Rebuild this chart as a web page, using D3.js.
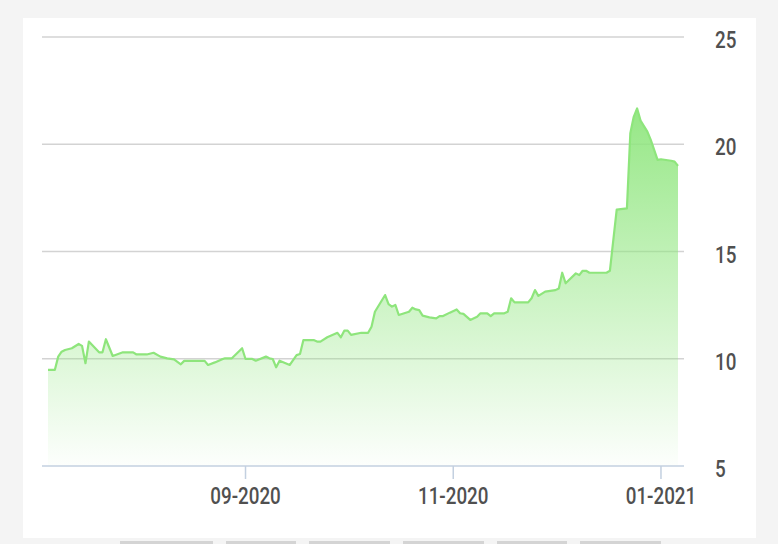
<!DOCTYPE html>
<html>
<head>
<meta charset="utf-8">
<script src="https://cdn.jsdelivr.net/npm/d3@7"></script>
<style>
  html, body { margin: 0; padding: 0; background: #f4f4f4; }
  svg { display: block; }
  text { font-family: Roboto, "Noto Sans", sans-serif; fill: #505050; font-weight: 500; }
</style>
</head>
<body>
<svg id="chart" width="778" height="544"></svg>
<script>
const dates = [
  "2020-07-05","2020-07-07","2020-07-08","2020-07-09","2020-07-10","2020-07-12","2020-07-14","2020-07-15","2020-07-16","2020-07-17",
  "2020-07-20","2020-07-21","2020-07-22","2020-07-24","2020-07-27","2020-07-30","2020-07-31","2020-08-03","2020-08-05","2020-08-07",
  "2020-08-09","2020-08-11","2020-08-13","2020-08-14","2020-08-20","2020-08-21","2020-08-23","2020-08-25","2020-08-26","2020-08-28",
  "2020-08-31","2020-09-01","2020-09-03","2020-09-04","2020-09-07","2020-09-08","2020-09-09","2020-09-10","2020-09-11","2020-09-14",
  "2020-09-16","2020-09-17","2020-09-18","2020-09-21","2020-09-22","2020-09-23","2020-09-25","2020-09-28","2020-09-29","2020-09-30",
  "2020-10-01","2020-10-02","2020-10-05","2020-10-07","2020-10-08","2020-10-09","2020-10-12","2020-10-13","2020-10-14","2020-10-15",
  "2020-10-16","2020-10-19","2020-10-20","2020-10-21","2020-10-22","2020-10-23","2020-10-25","2020-10-27","2020-10-28","2020-10-29",
  "2020-10-31","2020-11-02","2020-11-03","2020-11-04","2020-11-06","2020-11-08","2020-11-09","2020-11-11","2020-11-12","2020-11-13",
  "2020-11-16","2020-11-17","2020-11-18","2020-11-19","2020-11-23","2020-11-24","2020-11-25","2020-11-26","2020-11-28","2020-12-01",
  "2020-12-02","2020-12-03","2020-12-04","2020-12-07","2020-12-08","2020-12-09","2020-12-10","2020-12-11","2020-12-16","2020-12-17",
  "2020-12-19","2020-12-22","2020-12-23","2020-12-24","2020-12-25","2020-12-26","2020-12-28","2020-12-29","2020-12-31","2021-01-01",
  "2021-01-04","2021-01-05","2021-01-06"
];
const values = [
  9.48,9.48,10.10,10.33,10.41,10.49,10.69,10.60,9.79,10.80,
  10.30,10.30,10.91,10.13,10.30,10.30,10.20,10.20,10.28,10.10,
  10.02,9.97,9.74,9.90,9.90,9.71,9.83,9.97,10.02,10.02,
  10.49,9.99,9.99,9.91,10.10,10.02,9.99,9.60,9.91,9.71,
  10.17,10.22,10.87,10.87,10.80,10.80,11.00,11.21,11.00,11.31,
  11.31,11.11,11.21,11.21,11.49,12.19,12.97,12.55,12.43,12.51,
  12.04,12.19,12.38,12.30,12.27,12.01,11.93,11.88,11.99,11.99,
  12.15,12.30,12.12,12.09,11.81,11.96,12.12,12.12,11.99,12.12,
  12.12,12.19,12.82,12.63,12.63,12.82,13.20,12.93,13.13,13.20,
  13.28,14.01,13.52,13.98,13.90,14.10,14.10,14.01,14.01,14.10,
  16.95,17.01,20.51,21.28,21.67,21.10,20.59,20.20,19.27,19.30,
  19.23,19.19,18.99
];
const yTicks = [5, 10, 15, 20, 25];
const xTickDates = ["2020-09-01", "2020-11-01", "2021-01-01"];
const xTickLabels = ["09-2020", "11-2020", "01-2021"];
const tabWidths = [93, 70, 81, 81, 70, 81];

const parse = d3.timeParse("%Y-%m-%d");
const data = dates.map((d, i) => ({ date: parse(d), value: values[i] }));

const svg = d3.select("#chart");

// panel
svg.append("rect").attr("x", 23).attr("y", 18).attr("width", 733).attr("height", 520).attr("fill", "#ffffff");

// bottom tabs (decoration)
let tx = 120;
tabWidths.forEach(w => {
  svg.append("rect").attr("x", tx).attr("y", 541).attr("width", w).attr("height", 3).attr("fill", "#d4d4d4");
  tx += w + 13;
});

const x = d3.scaleTime()
  .domain(d3.extent(data, d => d.date))
  .range([48, 678]);
const y = d3.scaleLinear().domain([5, 25]).range([466, 37]);

// gradient
const defs = svg.append("defs");
const grad = defs.append("linearGradient").attr("id", "areaGrad")
  .attr("gradientUnits", "userSpaceOnUse")
  .attr("x1", 0).attr("x2", 0).attr("y1", y(d3.max(values))).attr("y2", y(5));
grad.append("stop").attr("offset", "0%").attr("stop-color", "#90e67f").attr("stop-opacity", 0.95);
grad.append("stop").attr("offset", "100%").attr("stop-color", "#90e67f").attr("stop-opacity", 0.02);

// gridlines
svg.append("g").selectAll("line").data(yTicks.filter(t => t !== 5)).join("line")
  .attr("x1", 42).attr("x2", 684)
  .attr("y1", d => y(d)).attr("y2", d => y(d))
  .attr("stroke", "#d3d3d3").attr("stroke-width", 1.5);

// area + line
const area = d3.area().x(d => x(d.date)).y0(y(5)).y1(d => y(d.value));
const line = d3.line().x(d => x(d.date)).y(d => y(d.value));
svg.append("path").datum(data).attr("d", area).attr("fill", "url(#areaGrad)");
svg.append("path").datum(data).attr("d", line)
  .attr("fill", "none").attr("stroke", "#8ee57c").attr("stroke-width", 2.2)
  .attr("stroke-linejoin", "round");

// x axis
svg.append("line").attr("x1", 42).attr("x2", 684).attr("y1", y(5)).attr("y2", y(5))
  .attr("stroke", "#c3d0e0").attr("stroke-width", 1.5);
const xg = svg.append("g");
xTickDates.forEach((d, i) => {
  const px = x(parse(d));
  xg.append("line").attr("x1", px).attr("x2", px).attr("y1", y(5)).attr("y2", y(5) + 13)
    .attr("stroke", "#c3d0e0").attr("stroke-width", 1.5);
  xg.append("text")
    .attr("transform", `translate(${px},504) scale(0.8,1)`)
    .attr("text-anchor", "middle")
    .style("font-size", "23.5px")
    .text(xTickLabels[i]);
});

// y labels (right)
const yg = svg.append("g");
yTicks.forEach(t => {
  yg.append("text")
    .attr("transform", `translate(715,${y(t) + 11}) scale(0.8,1)`)
    .attr("text-anchor", "start")
    .style("font-size", "23.5px")
    .text(t);
});
</script>
</body>
</html>
